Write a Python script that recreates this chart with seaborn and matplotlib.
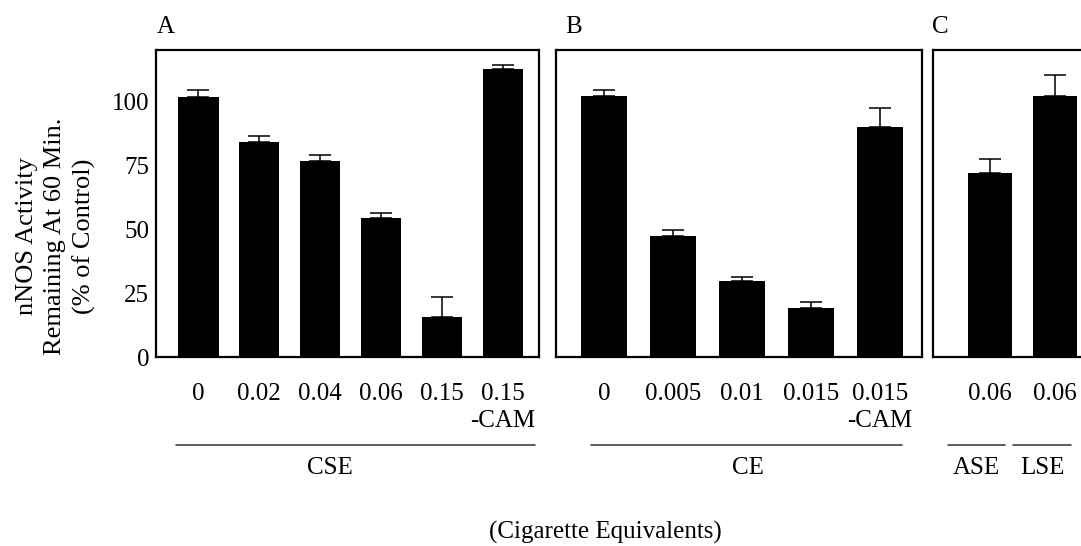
import matplotlib
matplotlib.use("Agg")
import numpy as np
import matplotlib.pyplot as plt
import seaborn as sns
from matplotlib.lines import Line2D

sns.set_style("white")
plt.rcParams["font.family"] = ["Liberation Serif", "DejaVu Serif"]
plt.rcParams["text.color"] = "black"
plt.rcParams["xtick.color"] = "black"
plt.rcParams["ytick.color"] = "black"

# --- Datos (% de actividad nNOS a los 60 min) ---
cse_dosis = ["0", "0.02", "0.04", "0.06", "0.15", "0.15\n-CAM"]
cse_media = [101.7, 84.0, 76.6, 54.2, 15.6, 112.6]
cse_error = [2.6, 2.3, 2.4, 2.2, 7.8, 1.7]

ce_dosis = ["0", "0.005", "0.01", "0.015", "0.015\n-CAM"]
ce_media = [102.0, 47.4, 29.9, 19.1, 89.8]
ce_error = [2.4, 2.2, 1.3, 2.4, 7.5]

c_grupos = ["ASE", "LSE"]
c_dosis = ["0.06", "0.06"]
c_media = [71.8, 101.9]
c_error = [5.5, 8.2]

W, H = 1081, 546
FS = 18


def caja(x0, x1, y0=50, y1=357):
    return [x0 / W, 1 - y1 / H, (x1 - x0) / W, (y1 - y0) / H]


fig = plt.figure(figsize=(W / 100, H / 100), dpi=100)

paneles = [
    ("A", caja(156, 539), cse_dosis, cse_dosis, cse_media, cse_error, (-0.69, 5.59), 157),
    ("B", caja(556, 922), ce_dosis, ce_dosis, ce_media, ce_error, (-0.70, 4.61), 565),
    ("C", caja(933, 1112), c_grupos, c_dosis, c_media, c_error, (-0.88, 1.88), 932),
]

for letra, rect, cats, etiquetas, media, error, xlim, xletra in paneles:
    ax = fig.add_axes(rect)
    sns.barplot(x=cats, y=media, color="black", saturation=1, width=0.67,
                errorbar=None, linewidth=0, ax=ax)
    n = len(media)
    ax.errorbar(np.arange(n), media, yerr=[np.zeros(n), error], fmt="none",
                ecolor="black", elinewidth=1.1, capsize=8, capthick=1.1, zorder=0.5)
    ax.set_xlim(*xlim)
    ax.set_ylim(0, 120)
    ax.set_yticks([0, 25, 50, 75, 100])
    ax.set_xticks(np.arange(n))
    ax.set_xticklabels(etiquetas)
    for lab in ax.get_xticklabels():
        lab.set_linespacing(1.3)
    if letra != "A":
        ax.set_yticklabels([])
    ax.set_xlabel("")
    ax.set_ylabel("")
    ax.tick_params(axis="y", direction="in", length=5, width=1.5, labelsize=FS, pad=5)
    ax.tick_params(axis="x", length=0, labelsize=FS, pad=19)
    for s in ax.spines.values():
        s.set_visible(True)
        s.set_color("black")
        s.set_linewidth(1.6)
    fig.text(xletra / W, 1 - 27 / H, letra, fontsize=FS, ha="left", va="center")

# Lineas de grupo y nombres de extracto
grupos = [("CSE", 176, 535, 330), ("CE", 591, 902, 748),
          ("ASE", 948, 1005, 976), ("LSE", 1013, 1071, 1042)]
for nombre, x0, x1, xt in grupos:
    fig.add_artist(Line2D([x0 / W, x1 / W], [1 - 445 / H] * 2, color="#404040", lw=1.2))
    fig.text(xt / W, 1 - 468 / H, nombre, fontsize=FS, ha="center", va="center")

fig.text(56 / W, 1 - 236 / H, "nNOS Activity\nRemaining At 60 Min.\n(% of Control)",
         rotation=90, ha="center", va="center", multialignment="center",
         fontsize=19, linespacing=1.35)
fig.text(605 / W, 1 - 532 / H, "(Cigarette Equivalents)", fontsize=FS,
         ha="center", va="center")

fig.savefig("out.png", dpi=100)
